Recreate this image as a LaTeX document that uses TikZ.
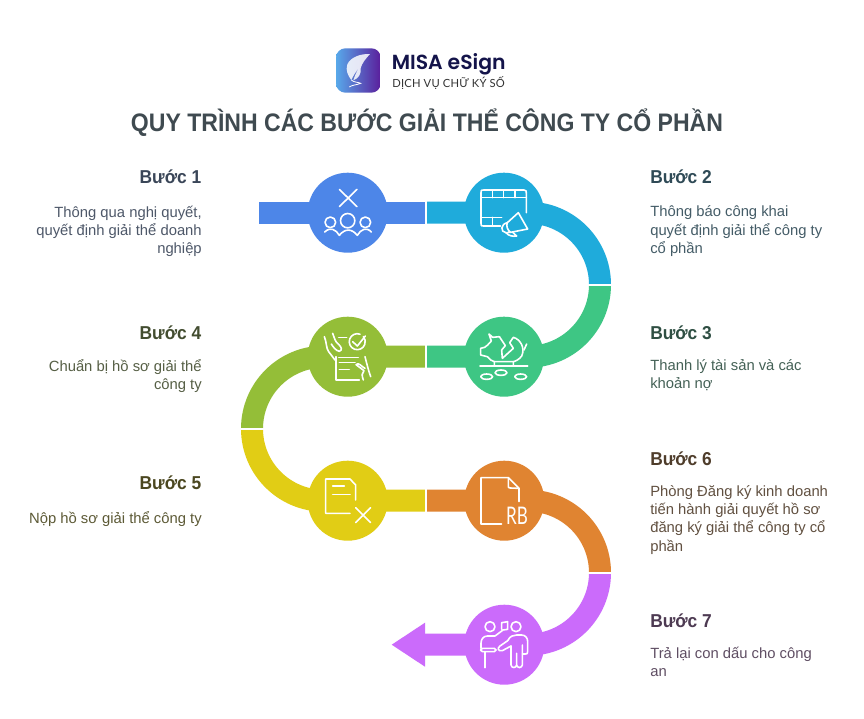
\documentclass[tikz,border=0pt]{standalone}
\usepackage{graphicx}
\usepackage{fontspec}
\setmainfont{Liberation Sans}
\newfontfamily\logofont{Poppins}[BoldFont={Poppins SemiBold}]
\newfontfamily\logosub{Lato}[LetterSpace=2]
\newfontfamily\rbfont{Lato}
\newfontfamily\titlefont{Liberation Sans}[FakeStretch=0.91]
\newfontfamily\headfont{Liberation Sans}[FakeStretch=0.93]
\usetikzlibrary{shadings}
\definecolor{cblue}{HTML}{4D86E8}
\definecolor{ccyan}{HTML}{1FABDB}
\definecolor{cgreen}{HTML}{3EC684}
\definecolor{colive}{HTML}{94BE38}
\definecolor{cyellow}{HTML}{E1CD15}
\definecolor{corange}{HTML}{E08431}
\definecolor{cpurple}{HTML}{CB6BFB}
\definecolor{ttitle}{HTML}{3F4A50}
\definecolor{tb1}{HTML}{3A4658}
\definecolor{tb2}{HTML}{2F4A56}
\definecolor{tb3}{HTML}{2F4F43}
\definecolor{tb4}{HTML}{434D30}
\definecolor{tb5}{HTML}{4B4720}
\definecolor{tb6}{HTML}{4F3D2B}
\definecolor{tb7}{HTML}{4D3A52}
\definecolor{navy}{HTML}{14144A}
\definecolor{logoL}{HTML}{58A9EA}
\definecolor{logoR}{HTML}{5A1E9C}
\tikzset{
  x=0.75pt,y=-0.75pt,
  band/.style={line width=16.5pt,line cap=butt},
  gapline/.style={draw=white,line width=1.3pt},
  disc/.style={circle,inner sep=0pt,minimum size=60pt},
  ico/.style={draw=white,line width=1.2pt,line cap=round,line join=round},
  stephead/.style={font=\headfont\bfseries\fontsize{14pt}{16pt}\selectfont},
  stepL/.style={align=right,anchor=north east,inner sep=0pt,font=\fontsize{11.1pt}{13.75pt}\selectfont},
  stepR/.style={align=left,anchor=north west,inner sep=0pt,font=\fontsize{11.1pt}{13.75pt}\selectfont},
  headL/.style={stephead,anchor=base east,inner sep=0pt},
  headR/.style={stephead,anchor=base west,inner sep=0pt},
}
\begin{document}
\begin{tikzpicture}
\useasboundingbox (0,0) rectangle (864,718);
\fill[white] (0,0) rectangle (864,718);
% named path points
\coordinate (s1) at (259,212.7);
\coordinate (j12) at (426.3,212.7);
\coordinate (a2) at (528,212.7);
\coordinate (j23) at (600,284.7);
\coordinate (a3) at (528,356.7);
\coordinate (j34) at (426.3,356.7);
\coordinate (a4) at (324,356.7);
\coordinate (j45) at (252,428.7);
\coordinate (a5) at (324,500.7);
\coordinate (j56) at (426.3,500.7);
\coordinate (a6) at (528,500.7);
\coordinate (j67) at (600,572.7);
\coordinate (a7) at (528,644.7);
\coordinate (j7) at (425,644.7);
% bands
\draw[band,cblue] (s1) -- (j12);
\draw[band,ccyan] (j12) -- (a2) arc[start angle=90,end angle=0,radius=54pt];
\draw[band,cgreen] (j23) arc[start angle=0,end angle=-90,radius=54pt] -- (j34);
\draw[band,colive] (j34) -- (a4) arc[start angle=90,end angle=180,radius=54pt];
\draw[band,cyellow] (j45) arc[start angle=180,end angle=270,radius=54pt] -- (j56);
\draw[band,corange] (j56) -- (a6) arc[start angle=90,end angle=0,radius=54pt];
\draw[band,cpurple] (j67) arc[start angle=0,end angle=-90,radius=54pt] -- (j7);
\coordinate (ah1) at (425,622.7);
\coordinate (ahT) at (391.7,644.7);
\coordinate (ah2) at (425,666.7);
\fill[cpurple] (ah1) -- (ahT) -- (ah2) -- cycle;
% white gaps
\path[gapline,draw] ([yshift=9pt]j12) -- ([yshift=-9pt]j12);
\path[gapline,draw] ([yshift=9pt]j34) -- ([yshift=-9pt]j34);
\path[gapline,draw] ([yshift=9pt]j56) -- ([yshift=-9pt]j56);
\path[gapline,draw] ([xshift=9pt]j23) -- ([xshift=-9pt]j23);
\path[gapline,draw] ([xshift=9pt]j45) -- ([xshift=-9pt]j45);
\path[gapline,draw] ([xshift=9pt]j67) -- ([xshift=-9pt]j67);
% discs
\node[disc,fill=cblue] (n1) at (347.7,212.7) {};
\node[disc,fill=ccyan] (n2) at (504,212.7) {};
\node[disc,fill=cgreen] (n3) at (504,356.7) {};
\node[disc,fill=colive] (n4) at (347.7,356.7) {};
\node[disc,fill=cyellow] (n5) at (347.7,500.7) {};
\node[disc,fill=corange] (n6) at (504.3,500.7) {};
\node[disc,fill=cpurple] (n7) at (504.3,644.7) {};
% icons 1-4, coordinates of a 3x crop at (250,160)
\begin{scope}[shift={(250,160)},x=0.25pt,y=-0.25pt]
% 1
\draw[ico] (268,88)--(321,140) (321,88)--(268,140);
\draw[ico] (293,182) circle[radius=21.5] (241,187) circle[radius=16] (346,187) circle[radius=16];
\draw[ico] (224,216) .. controls (240,200) and (258,208) .. (268,226) .. controls (285,205) and (305,205) .. (322,226) .. controls (332,208) and (350,200) .. (364,216);
% 2
\draw[ico] (829,158) -- (829,100) .. controls (829,92) .. (822,90) -- (701,90) .. controls (693,90) .. (693,98) -- (693,190) .. controls (693,198) .. (701,198) -- (752,198);
\draw[ico] (693,113)--(829,113) (693,172)--(755,172);
\draw[ico] (727,90)--(727,113) (761,90)--(761,113) (795,90)--(795,113) (727,172)--(727,198);
\draw[ico] (772,188)--(805,158)--(833,207)--(782,217);
\draw[ico] (772,188) .. controls (752,192) and (750,216) .. (768,218) -- (782,217) .. controls (772,210) and (768,198) .. (772,188);
\draw[ico] (768,218) .. controls (775,228) and (790,230) .. (800,228) -- (787,216);
% 3
\draw[ico] (690,618)--(833,618);
\draw[ico] (710,650) ellipse[x radius=18,y radius=8] (753,638) ellipse[x radius=18,y radius=8] (812,650) ellipse[x radius=18,y radius=8];
\draw[ico] (748,530) -- (728,532) -- (717,522) -- (724,543) .. controls (715,552) and (710,560) .. (704,562) -- (692,565) -- (692,585) -- (712,590) .. controls (718,598) and (725,603) .. (733,605) -- (733,617);
\draw[ico] (748,530) -- (766,557) -- (755,570) -- (757,595) -- (790,565) -- (779,548) -- (790,532) .. controls (812,538) and (826,565) .. (815,588) .. controls (808,598) and (798,603) .. (790,605) -- (790,617);
\draw[ico] (733,605)--(790,605) (822,570)--(830,552);
% 4
\draw[ico] (258,590)--(258,660)--(328,660) (266,592)--(325,592) (268,608)--(315,608) (268,628)--(298,628);
\draw[ico] (330,522.5) arc[start angle=-70,end angle=-400,radius=24];
\draw[ico] (308,545)--(322,558)--(346,528);
\draw[ico] (266,533)--(290,533);
\draw[ico] (223,530) .. controls (230,545) and (228,565) .. (236,575) -- (255,600);
\draw[ico] (248,520) .. controls (254,535) and (255,545) .. (265,552) .. controls (275,562) and (278,570) .. (268,574) .. controls (258,572) and (250,562) .. (244,552);
\draw[ico] (345,590) .. controls (350,610) and (355,630) .. (362,650);
\draw[ico] (340,660) .. controls (335,645) and (335,640) .. (342,632) -- (318,614) (318,614) .. controls (325,605) and (335,620) .. (345,625);
\end{scope}
% icons 5-7, coordinates of a 3x crop at (235,400)
\begin{scope}[shift={(235,400)},x=0.25pt,y=-0.25pt]
% 5
\draw[ico] (345,340)--(272,340)--(272,237)--(345,237)--(362,255)--(362,300);
\draw[ico] (293,258)--(328,258) (293,284)--(345,284);
\draw[ico] (362,323)--(407,368) (407,323)--(362,368);
% 6
\draw[ico] (800,372)--(738,372)--(738,233)--(820,233)--(852,265)--(852,305);
\draw[ico] (820,233)--(820,258) .. controls (820,263) .. (826,264) -- (852,265);
\node[text=white,inner sep=0pt,font=\rbfont\fontsize{12.8pt}{13pt}\selectfont] (rb) at (846,348) {\scalebox{1}[1.42]{RB}};
% 7
\draw[ico] (765,680) circle[radius=15] (843,680) circle[radius=15];
\draw[ico] (800,688) -- (800,668) -- (818,665) -- (818,688) -- (804,690) -- (780,708) -- (757,708) .. controls (745,708) and (738,718) .. (738,730) -- (738,745);
\draw[ico] (742,745)--(778,745) .. controls (785,750) .. (778,755) -- (742,755) .. controls (735,750) .. (742,745);
\draw[ico] (750,755)--(750,803);
\draw[ico] (818,722) .. controls (825,708) and (835,705) .. (845,705) -- (860,705) .. controls (872,705) and (878,715) .. (878,725) -- (878,755) .. controls (878,762) .. (862,762);
\draw[ico] (828,738)--(828,795) .. controls (830,805) and (843,805) .. (845,795) -- (845,760) (845,795) .. controls (847,805) and (860,805) .. (862,795) -- (862,735);
\draw[ico] (818,722)--(795,738) .. controls (785,745) and (790,755) .. (802,752) -- (828,738);
\end{scope}
% logo
\path[rounded corners=7pt,left color=logoL,right color=logoR] (336,48.3) rectangle (380.7,92.7);
\begin{scope}[shift={(320,35)},x=0.25pt,y=-0.25pt]
\fill[white,opacity=.85] (150,57) .. controls (122,56) and (92,66) .. (82,88) .. controls (76,106) and (84,122) .. (94,135) .. controls (100,122) and (108,108) .. (118,98) .. controls (108,112) and (104,124) .. (100,136) .. controls (115,130) and (124,118) .. (122,100) .. controls (125,85) and (138,70) .. (150,57) -- cycle;
\draw[white,line width=.6pt] (94,135) .. controls (100,142) and (118,142) .. (122,145) .. controls (110,150) and (95,150) .. (88,156);
\end{scope}
\node[anchor=base west,inner sep=0pt,text=navy,font=\logofont\bfseries\fontsize{15.3pt}{18pt}\selectfont] (lg) at (391.5,69.5) {MISA eSign};
\node[anchor=base west,inner sep=0pt,text=black!80,font=\logosub\fontsize{8.4pt}{10pt}\selectfont] (ls) at (392,87.5) {DỊCH VỤ CHỮ KÝ SỐ};
% title
\node[anchor=base,inner sep=0pt,text=ttitle,font=\titlefont\bfseries\fontsize{19pt}{22pt}\selectfont] (title) at (427,131.5) {QUY TRÌNH CÁC BƯỚC GIẢI THỂ CÔNG TY CỔ PHẦN};
% texts
\node[headL,text=tb1] (h1) at (201.5,183.5) {Bước 1};
\node[stepL,text=tb1!90] (d1) at (202,205.5) {Thông qua nghị quyết,\\quyết định giải thể doanh\\nghiệp};
\node[headR,text=tb2] (h2) at (650,183.5) {Bước 2};
\node[stepR,text=tb2!90] (d2) at (650,205.5) {Thông báo công khai\\quyết định giải thể công ty\\cổ phần};
\node[headR,text=tb3] (h3) at (650,339.5) {Bước 3};
\node[stepR,text=tb3!90] (d3) at (650,359) {Thanh lý tài sản và các\\khoản nợ};
\node[headL,text=tb4] (h4) at (201.5,339.5) {Bước 4};
\node[stepL,text=tb4!90] (d4) at (202,359) {Chuẩn bị hồ sơ giải thể\\công ty};
\node[headL,text=tb5] (h5) at (201.5,489.5) {Bước 5};
\node[stepL,text=tb5!90] (d5) at (202,511.5) {Nộp hồ sơ giải thể công ty};
\node[headR,text=tb6] (h6) at (650,465.5) {Bước 6};
\node[stepR,text=tb6!90] (d6) at (650,485) {Phòng Đăng ký kinh doanh\\tiến hành giải quyết hồ sơ\\đăng ký giải thể công ty cổ\\phần};
\node[headR,text=tb7] (h7) at (650,627.5) {Bước 7};
\node[stepR,text=tb7!90] (d7) at (650,647) {Trả lại con dấu cho công\\an};
\end{tikzpicture}
\end{document}
